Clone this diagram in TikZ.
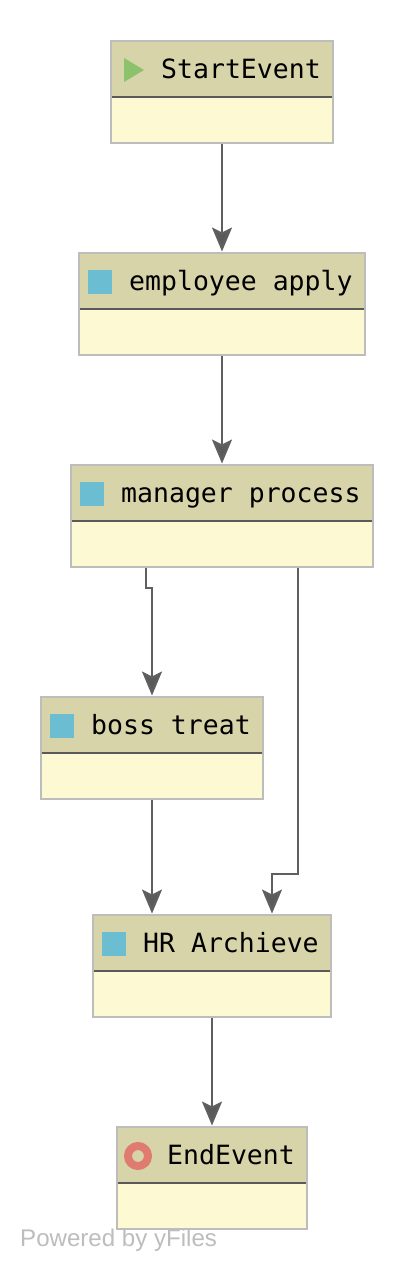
\documentclass[tikz,border=0pt]{standalone}
\usepackage{fontspec}
\setmainfont{Liberation Sans}
\newfontfamily\codefont{DejaVu Sans Mono}
\usetikzlibrary{arrows.meta}
\definecolor{headfill}{HTML}{D7D4AA}
\definecolor{bodyfill}{HTML}{FDF9D3}
\definecolor{boxline}{HTML}{BDBDBD}
\definecolor{divline}{HTML}{5A5A5A}
\definecolor{edgeline}{HTML}{5F5F5F}
\definecolor{taskblue}{HTML}{6BBDD2}
\definecolor{startgreen}{HTML}{8BC26B}
\definecolor{endred}{HTML}{E07B70}
\definecolor{credit}{HTML}{BDBDBD}
\tikzset{
  x=1pt,y=-1pt,
  bodybox/.style={draw=boxline,line width=2.2pt,fill=bodyfill,inner sep=0pt,outer sep=0pt,anchor=north west,minimum height=102pt},
  headbox/.style={fill=headfill,inner sep=0pt,outer sep=0pt,anchor=north west,minimum height=55pt},
  label/.style={font=\codefont\fontsize{26.5}{30}\selectfont,inner sep=0pt,anchor=base west,text=black},
  taskicon/.style={fill=taskblue,inner sep=0pt,minimum size=24pt,anchor=center},
  flow/.style={draw=edgeline,line width=2.4pt,-{Stealth[length=24pt,width=20pt,inset=5pt,fill=divline]}},
  divider/.style={draw=divline,line width=2.2pt},
}
\newcommand{\umlbox}[6]{%
  % name, left, top, width, label x, label
  \node[bodybox,minimum width=#4pt] (#1) at (#2,#3) {};
  \node[headbox,minimum width=#4pt-2pt] (#1h) at (#2+1,#3+1) {};
  \draw[divider] (#1h.south west) -- (#1h.south east);
  \node[label] (#1t) at (#5,#3+37.5) {#6};
}
\begin{document}
\begin{tikzpicture}
\useasboundingbox (0,0) rectangle (414,1270);
\fill[white] (0,0) rectangle (414,1270);

\umlbox{start}{111}{41}{221.7}{161}{StartEvent}
\umlbox{emp}{79}{253}{285.7}{129}{employee apply}
\umlbox{mgr}{71}{465}{301.7}{121}{manager process}
\umlbox{boss}{41}{697}{221.7}{91}{boss treat}
\umlbox{hr}{93}{915}{237.7}{143}{HR Archieve}
\umlbox{endb}{117}{1127}{189.7}{167}{EndEvent}

\path[fill=startgreen] (124,58) -- (144,70) -- (124,82) -- cycle;
\node[taskicon] (empi) at (100,282) {};
\node[taskicon] (mgri) at (92,494) {};
\node[taskicon] (bossi) at (62,726) {};
\node[taskicon] (hri) at (114,944) {};
\node[draw=endred,line width=8pt,fill=none,circle,inner sep=0pt,minimum size=20pt] (endi) at (138,1156) {};

\coordinate (s1) at (222,144);
\coordinate (t1) at (222,251.5);
\coordinate (s2) at (222,356);
\coordinate (t2) at (222,463.5);
\coordinate (s3) at (146,568);
\coordinate (b3) at (146,588);
\coordinate (c3) at (152,588);
\coordinate (t3) at (152,695.5);
\coordinate (s4) at (298,568);
\coordinate (b4) at (298,874);
\coordinate (c4) at (272,874);
\coordinate (t4) at (272,913.5);
\coordinate (s5) at (152,800);
\coordinate (t5) at (152,913.5);
\coordinate (s6) at (212,1018);
\coordinate (t6) at (212,1125.5);

\draw[flow] (s1) -- (t1);
\draw[flow] (s2) -- (t2);
\draw[flow] (s3) -- (b3) -- (c3) -- (t3);
\draw[flow] (s4) -- (b4) -- (c4) -- (t4);
\draw[flow] (s5) -- (t5);
\draw[flow] (s6) -- (t6);

\node[font=\fontsize{24.1}{28}\selectfont,text=credit,inner sep=0pt,anchor=base west] (credit) at (20,1246) {Powered by yFiles};
\end{tikzpicture}
\end{document}
